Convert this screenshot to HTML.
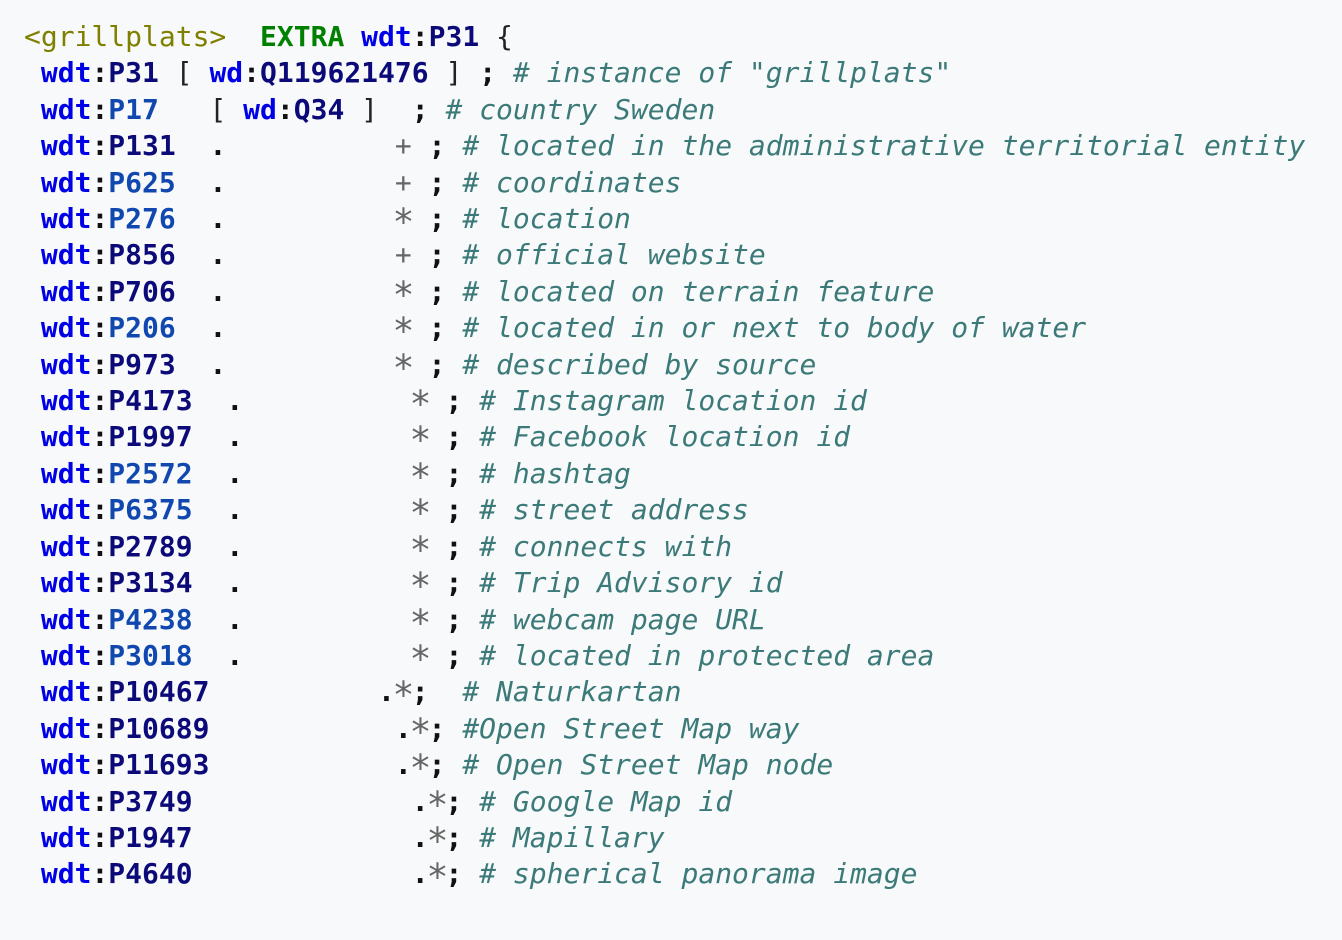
<!DOCTYPE html>
<html><head><meta charset="utf-8"><style>
html,body{margin:0;padding:0;background:#f8f9fa;width:1342px;height:940px;overflow:hidden}
pre{margin:0;position:absolute;left:24px;top:19px;font-family:"DejaVu Sans Mono","Liberation Mono",monospace;font-size:28px;line-height:36.4px;color:#222;white-space:pre}
.t{color:#808000}.x{color:#008000;font-weight:bold}.w{color:#0000e6;font-weight:bold}
.n{color:#0c0a78;font-weight:bold}.l{color:#1048b0;font-weight:bold}
.c{color:#3b7a78;font-style:italic}.g{color:#666}.b{font-weight:bold;color:#111}
.s{color:#666;display:inline-block;transform:translateY(4px) scale(1.3)}
</style></head><body><pre><span class="t">&lt;grillplats&gt;</span>  <span class="x">EXTRA</span> <span class="w">wdt</span><span class="b">:</span><span class="n">P31</span> {
 <span class="w">wdt</span><span class="b">:</span><span class="n">P31</span> [ <span class="w">wd</span><span class="b">:</span><span class="n">Q119621476</span> ] <span class="b">;</span> <span class="c"># instance of "grillplats"</span>
 <span class="w">wdt</span><span class="b">:</span><span class="l">P17</span>   [ <span class="w">wd</span><span class="b">:</span><span class="n">Q34</span> ]  <span class="b">;</span> <span class="c"># country Sweden</span>
 <span class="w">wdt</span><span class="b">:</span><span class="n">P131</span>  <span class="b">.</span>          <span class="g">+</span> <span class="b">;</span> <span class="c"># located in the administrative territorial entity</span>
 <span class="w">wdt</span><span class="b">:</span><span class="l">P625</span>  <span class="b">.</span>          <span class="g">+</span> <span class="b">;</span> <span class="c"># coordinates</span>
 <span class="w">wdt</span><span class="b">:</span><span class="l">P276</span>  <span class="b">.</span>          <span class="s">*</span> <span class="b">;</span> <span class="c"># location</span>
 <span class="w">wdt</span><span class="b">:</span><span class="n">P856</span>  <span class="b">.</span>          <span class="g">+</span> <span class="b">;</span> <span class="c"># official website</span>
 <span class="w">wdt</span><span class="b">:</span><span class="n">P706</span>  <span class="b">.</span>          <span class="s">*</span> <span class="b">;</span> <span class="c"># located on terrain feature</span>
 <span class="w">wdt</span><span class="b">:</span><span class="l">P206</span>  <span class="b">.</span>          <span class="s">*</span> <span class="b">;</span> <span class="c"># located in or next to body of water</span>
 <span class="w">wdt</span><span class="b">:</span><span class="n">P973</span>  <span class="b">.</span>          <span class="s">*</span> <span class="b">;</span> <span class="c"># described by source</span>
 <span class="w">wdt</span><span class="b">:</span><span class="n">P4173</span>  <span class="b">.</span>          <span class="s">*</span> <span class="b">;</span> <span class="c"># Instagram location id</span>
 <span class="w">wdt</span><span class="b">:</span><span class="n">P1997</span>  <span class="b">.</span>          <span class="s">*</span> <span class="b">;</span> <span class="c"># Facebook location id</span>
 <span class="w">wdt</span><span class="b">:</span><span class="l">P2572</span>  <span class="b">.</span>          <span class="s">*</span> <span class="b">;</span> <span class="c"># hashtag</span>
 <span class="w">wdt</span><span class="b">:</span><span class="l">P6375</span>  <span class="b">.</span>          <span class="s">*</span> <span class="b">;</span> <span class="c"># street address</span>
 <span class="w">wdt</span><span class="b">:</span><span class="n">P2789</span>  <span class="b">.</span>          <span class="s">*</span> <span class="b">;</span> <span class="c"># connects with</span>
 <span class="w">wdt</span><span class="b">:</span><span class="n">P3134</span>  <span class="b">.</span>          <span class="s">*</span> <span class="b">;</span> <span class="c"># Trip Advisory id</span>
 <span class="w">wdt</span><span class="b">:</span><span class="l">P4238</span>  <span class="b">.</span>          <span class="s">*</span> <span class="b">;</span> <span class="c"># webcam page URL</span>
 <span class="w">wdt</span><span class="b">:</span><span class="l">P3018</span>  <span class="b">.</span>          <span class="s">*</span> <span class="b">;</span> <span class="c"># located in protected area</span>
 <span class="w">wdt</span><span class="b">:</span><span class="n">P10467</span>          <span class="b">.</span><span class="s">*</span><span class="b">;</span>  <span class="c"># Naturkartan</span>
 <span class="w">wdt</span><span class="b">:</span><span class="n">P10689</span>           <span class="b">.</span><span class="s">*</span><span class="b">;</span> <span class="c">#Open Street Map way</span>
 <span class="w">wdt</span><span class="b">:</span><span class="n">P11693</span>           <span class="b">.</span><span class="s">*</span><span class="b">;</span> <span class="c"># Open Street Map node</span>
 <span class="w">wdt</span><span class="b">:</span><span class="n">P3749</span>             <span class="b">.</span><span class="s">*</span><span class="b">;</span> <span class="c"># Google Map id</span>
 <span class="w">wdt</span><span class="b">:</span><span class="n">P1947</span>             <span class="b">.</span><span class="s">*</span><span class="b">;</span> <span class="c"># Mapillary</span>
 <span class="w">wdt</span><span class="b">:</span><span class="n">P4640</span>             <span class="b">.</span><span class="s">*</span><span class="b">;</span> <span class="c"># spherical panorama image</span>
</pre></body></html>
